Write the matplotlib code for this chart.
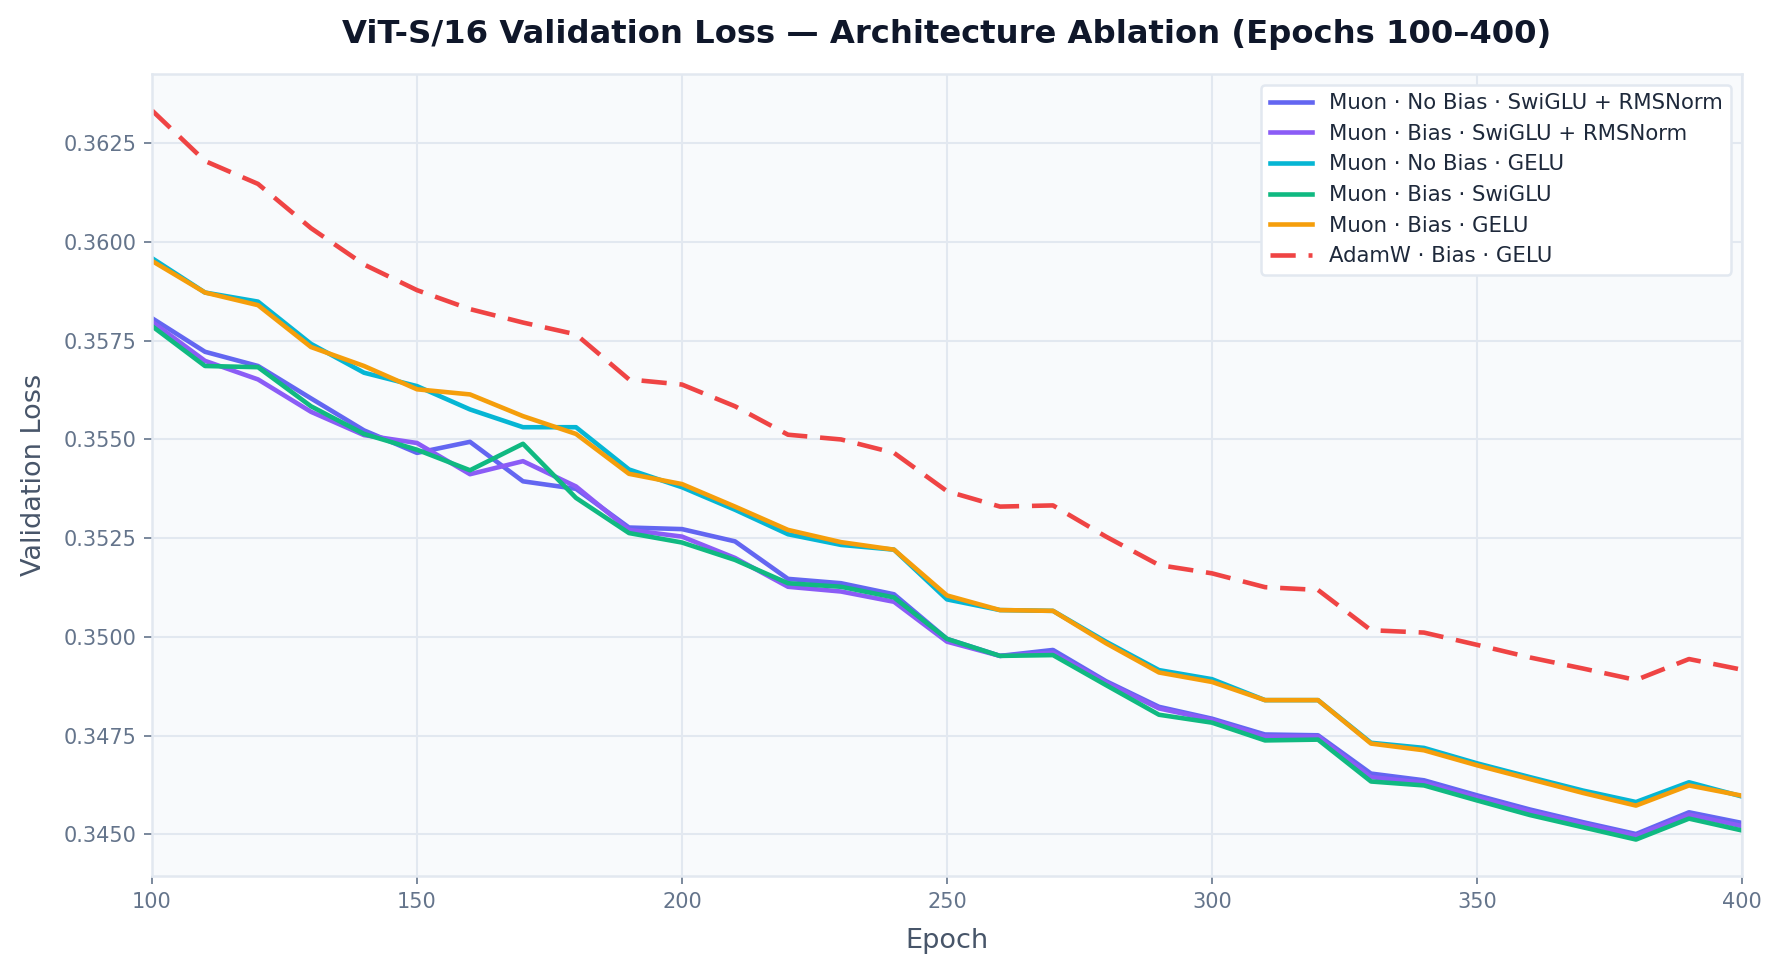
import matplotlib
matplotlib.use('Agg')
import matplotlib.pyplot as plt
from matplotlib.ticker import MultipleLocator, FormatStrFormatter

# epochs and validation loss per run
epochs = list(range(100, 401, 10))

nobias_swiglu_rms = [0.35807, 0.35722, 0.35686, 0.35604, 0.35523, 0.35466, 0.35494, 0.35394,
                     0.35375, 0.35277, 0.35273, 0.35242, 0.35147, 0.35136, 0.35108, 0.34995,
                     0.34952, 0.34967, 0.34888, 0.34823, 0.34793, 0.34753, 0.34751, 0.34654,
                     0.34637, 0.34599, 0.34563, 0.34531, 0.34501, 0.34556, 0.34529]
bias_swiglu_rms = [0.35798, 0.35699, 0.35652, 0.35570, 0.35511, 0.35491, 0.35412, 0.35445,
                   0.35381, 0.35271, 0.35254, 0.35200, 0.35127, 0.35115, 0.35089, 0.34988,
                   0.34952, 0.34960, 0.34885, 0.34819, 0.34790, 0.34748, 0.34748, 0.34645,
                   0.34631, 0.34594, 0.34558, 0.34527, 0.34497, 0.34550, 0.34521]
nobias_gelu = [0.35959, 0.35872, 0.35849, 0.35742, 0.35669, 0.35635, 0.35576, 0.35531,
               0.35531, 0.35424, 0.35379, 0.35322, 0.35260, 0.35233, 0.35221, 0.35095,
               0.35068, 0.35066, 0.34988, 0.34916, 0.34893, 0.34840, 0.34840, 0.34732,
               0.34719, 0.34680, 0.34645, 0.34611, 0.34582, 0.34632, 0.34596]
bias_swiglu = [0.35787, 0.35686, 0.35683, 0.35584, 0.35514, 0.35474, 0.35422, 0.35489,
               0.35352, 0.35263, 0.35239, 0.35195, 0.35136, 0.35127, 0.35100, 0.34995,
               0.34952, 0.34954, 0.34878, 0.34803, 0.34783, 0.34738, 0.34740, 0.34634,
               0.34624, 0.34586, 0.34549, 0.34518, 0.34487, 0.34540, 0.34510]
bias_gelu = [0.35952, 0.35872, 0.35840, 0.35734, 0.35686, 0.35627, 0.35614, 0.35559,
             0.35514, 0.35413, 0.35387, 0.35330, 0.35271, 0.35240, 0.35221, 0.35105,
             0.35068, 0.35066, 0.34984, 0.34910, 0.34886, 0.34840, 0.34840, 0.34730,
             0.34713, 0.34675, 0.34640, 0.34605, 0.34573, 0.34624, 0.34598]
adamw_bias_gelu = [0.36333, 0.36205, 0.36147, 0.36035, 0.35943, 0.35878, 0.35830, 0.35796,
                   0.35766, 0.35652, 0.35639, 0.35584, 0.35512, 0.35500, 0.35466, 0.35369,
                   0.35330, 0.35333, 0.35254, 0.35182, 0.35161, 0.35126, 0.35119, 0.35017,
                   0.35011, 0.34980, 0.34948, 0.34920, 0.34891, 0.34944, 0.34917]

labels = ['Muon · No Bias · SwiGLU + RMSNorm',
          'Muon · Bias · SwiGLU + RMSNorm',
          'Muon · No Bias · GELU',
          'Muon · Bias · SwiGLU',
          'Muon · Bias · GELU',
          'AdamW · Bias · GELU']
colors = ['#6366f1', '#8b5cf6', '#06b6d4', '#10b981', '#f59e0b', '#ef4444']
series = [nobias_swiglu_rms, bias_swiglu_rms, nobias_gelu, bias_swiglu, bias_gelu, adamw_bias_gelu]

fig = plt.figure(figsize=(1781/150, 972/150), dpi=150)
ax = fig.add_axes([152/1781, 1-876/972, (1742-152)/1781, (876-74)/972])
ax.set_facecolor('#f8fafc')

for i in range(len(series)):
    if i == 5:
        ax.plot(epochs, series[i], color=colors[i], lw=2.2, dashes=(5.5, 2.8), label=labels[i])
    else:
        ax.plot(epochs, series[i], color=colors[i], lw=2.2, label=labels[i])

ax.set_xlim(100, 400)
ax.xaxis.set_major_locator(MultipleLocator(50))
ax.yaxis.set_major_locator(MultipleLocator(0.0025))
ax.yaxis.set_major_formatter(FormatStrFormatter('%.4f'))
ax.grid(True, color='#e2e8f0', lw=1.0)
ax.set_axisbelow(True)
for s in ax.spines.values():
    s.set_color('#e2e8f0')
    s.set_linewidth(1.2)
ax.tick_params(colors='#64748b', labelsize=10, length=4)

ax.set_title('ViT-S/16 Validation Loss — Architecture Ablation (Epochs 100–400)',
             fontsize=15.5, fontweight='bold', color='#0f172a', pad=15)
ax.set_xlabel('Epoch', fontsize=13, color='#475569', labelpad=8)
ax.set_ylabel('Validation Loss', fontsize=13, color='#475569', labelpad=8)

leg = ax.legend(loc='upper right', fontsize=10.2, frameon=True, fancybox=True,
                edgecolor='#e2e8f0', facecolor='white', framealpha=1.0)
for t in leg.get_texts():
    t.set_color('#1e293b')
leg.get_frame().set_linewidth(1.2)

fig.savefig('out.png', dpi=150)
